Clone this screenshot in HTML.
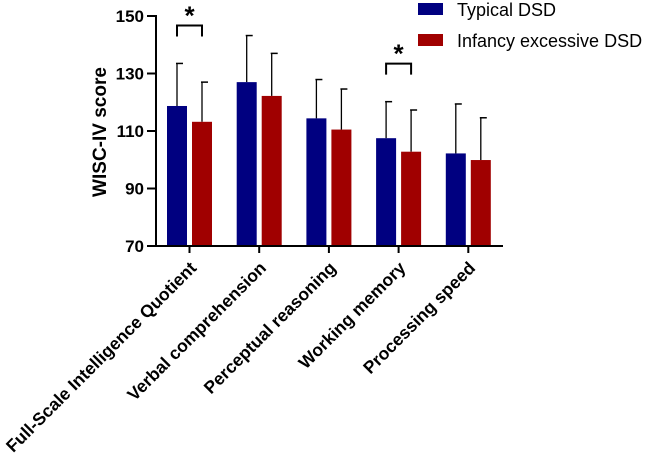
<!DOCTYPE html>
<html><head><meta charset="utf-8"><style>
body{margin:0;background:#fff}
svg{display:block;font-family:"Liberation Sans",Arial,sans-serif}
</style></head><body>
<svg id="chart" width="650" height="458" viewBox="0 0 650 458">
<g id="g"></g>
</svg>
<script>
const categories=["Full-Scale Intelligence Quotient","Verbal comprehension","Perceptual reasoning","Working memory","Processing speed"];
const typicalMeans=[118.7,127,114.4,107.5,102.2];
const typicalSD=[14.8,16.2,13.5,12.7,17.2];
const excessMeans=[113.2,122.2,110.5,102.8,99.9];
const excessSD=[13.8,14.8,14.1,14.5,14.7];
const yTicks=[70,90,110,130,150];
const sigGroups=[0,3];
const NS="http://www.w3.org/2000/svg";
const g=document.getElementById('g');
const y0=246,y1=16,vmin=70,vmax=150;
const Y=v=>y0-(v-vmin)*(y0-y1)/(vmax-vmin);
const X=i=>189.5+i*69.7;
function mk(t,a,parent){const e=document.createElementNS(NS,t);for(const k in a)e.setAttribute(k,a[k]);(parent||g).appendChild(e);return e;}
categories.forEach((c,i)=>{
 [[typicalMeans,typicalSD,'#000080',-22.5,'typical'],[excessMeans,excessSD,'#a00000',2.5,'excess']].forEach(([m,s,col,off,nm])=>{
  const x=X(i)+off,w=20;
  const el=mk('line',{x1:x+w/2,x2:x+w/2,y1:Y(m[i]),y2:Y(m[i]+s[i]),stroke:'#000','stroke-width':1.3});
  
  
  const cap=mk('line',{x1:x+w/2-1,x2:x+w/2+6,y1:Y(m[i]+s[i]),y2:Y(m[i]+s[i]),stroke:'#000','stroke-width':1.5});
  
  
  const r=mk('rect',{x:x,y:Y(m[i]),width:w,height:y0-Y(m[i]),fill:col});
  
  
 });
 const tk=mk('line',{x1:X(i),x2:X(i),y1:y0,y2:y0+7,stroke:'#000','stroke-width':2});
 
 
 const t=mk('text',{x:0,y:0,'text-anchor':'end','font-size':17.5,'font-weight':'bold',transform:`translate(${X(i)+8},${y0+23}) rotate(-45)`});
 t.textContent=c;
 
 
});
sigGroups.forEach(i=>{
 const top=Math.max(typicalMeans[i]+typicalSD[i],excessMeans[i]+excessSD[i]);
 const yb=Y(top)-38,x1=X(i)-12.5,x2=X(i)+12.5;
 const p=mk('path',{d:`M${x1},${yb+11}V${yb}H${x2}V${yb+11}`,fill:'none',stroke:'#000','stroke-width':2});
 
 
 const s=mk('text',{x:X(i),y:yb-1,'text-anchor':'middle','font-size':26,'font-weight':'bold'});
 s.textContent='*';
 
 
});
const ya=mk('line',{x1:156,x2:156,y1:y1-1,y2:y0+1,stroke:'#000','stroke-width':2});


const xa=mk('line',{x1:155,x2:503,y1:y0,y2:y0,stroke:'#000','stroke-width':2});


yTicks.forEach(v=>{
 const l=mk('line',{x1:147,x2:156,y1:Y(v),y2:Y(v),stroke:'#000','stroke-width':2});
 
 
 const t=mk('text',{x:144,y:Y(v)+6,'text-anchor':'end','font-size':17,'font-weight':'bold'});
 t.textContent=v;
 
 
});
const yt=mk('text',{x:0,y:0,'text-anchor':'middle','font-size':19,'font-weight':'bold',transform:'translate(106,132) rotate(-90)'});
yt.textContent='WISC-IV score';


[['Typical DSD','#000080',3],['Infancy excessive DSD','#a00000',34]].forEach(([n,c,yy])=>{
 const r=mk('rect',{x:418,y:yy,width:25,height:12,fill:c});
 
 
 const t=mk('text',{x:457,y:yy+13,'font-size':18});
 t.textContent=n;
 
 
});
</script>
</body></html>
